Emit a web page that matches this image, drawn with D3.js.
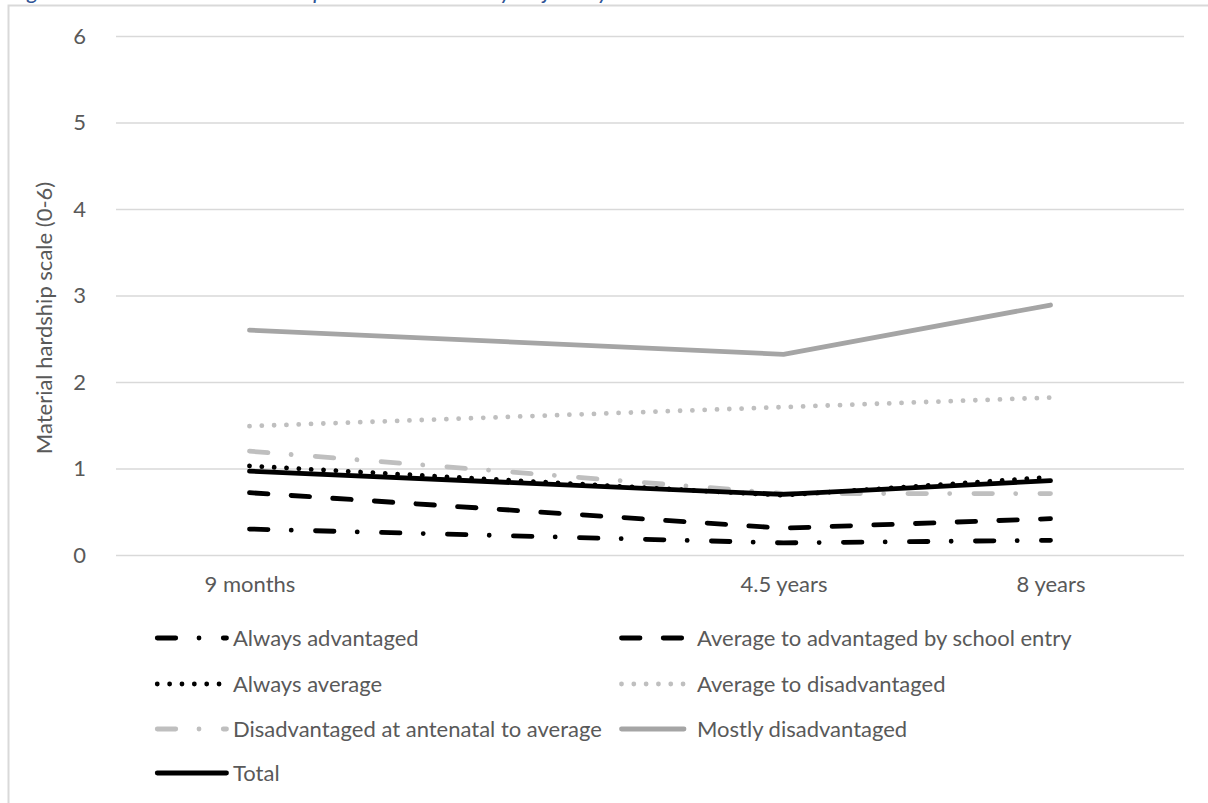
<!DOCTYPE html>
<html>
<head>
<meta charset="utf-8">
<script src="https://cdn.jsdelivr.net/npm/d3@7"></script>
<style>
  html, body { margin: 0; padding: 0; background: #ffffff; }
  svg { display: block; font-family: Lato, "Open Sans", sans-serif; }
</style>
</head>
<body>
<svg id="chart" width="1208" height="803"></svg>
<script>
// Survey waves (the second slot is an unlabelled gap on the category axis)
const categories = ["9 months", "", "4.5 years", "8 years"];
const yTicks = [0, 1, 2, 3, 4, 5, 6];

// Mean material hardship score per wave for each trajectory group
const alwaysAdvantaged      = [0.30, null, 0.14, 0.17];
const avgToAdvantaged       = [0.72, null, 0.31, 0.42];
const alwaysAverage         = [1.03, null, 0.69, 0.90];
const avgToDisadvantaged    = [1.49, null, 1.71, 1.82];
const disadvAntenatalToAvg  = [1.20, null, 0.71, 0.71];
const mostlyDisadvantaged   = [2.60, null, 2.32, 2.89];
const total                 = [0.97, null, 0.70, 0.86];

const seriesNames = [
  "Always advantaged",
  "Average to advantaged by school entry",
  "Always average",
  "Average to disadvantaged",
  "Disadvantaged at antenatal to average",
  "Mostly disadvantaged",
  "Total"
];
const seriesValues = [alwaysAdvantaged, avgToAdvantaged, alwaysAverage,
  avgToDisadvantaged, disadvAntenatalToAvg, mostlyDisadvantaged, total];

// Line styles
const W = 4.8;
const styles = [
  { color: "#000000", dash: "18.5 23.25 0.01 24.25" },   // long dash dot
  { color: "#000000", dash: "18.5 23.2" },               // long dash
  { color: "#000000", dash: "0.01 12.35" },              // round dot
  { color: "#bfbfbf", dash: "0.01 12.3" },               // round dot, light grey
  { color: "#bfbfbf", dash: "18.5 23.25 0.01 24.25" },   // long dash dot, light grey
  { color: "#a5a5a5", dash: null },                      // solid grey
  { color: "#000000", dash: null }                       // solid black
];

const svg = d3.select("#chart");
const textColor = "#595959";
const fontSize = 22;

// Outer chart frame
svg.append("rect")
  .attr("x", 8.5).attr("y", 5.5)
  .attr("width", 1230).attr("height", 830)
  .attr("fill", "none").attr("stroke", "#d9d9d9").attr("stroke-width", 2);

// Caption above the frame
svg.append("text")
  .attr("x", 10).attr("y", -1.5)
  .attr("font-family", "Lato, sans-serif")
  .attr("font-style", "italic")
  .attr("font-size", 23)
  .attr("fill", "#2f5597")
  .text("Figure 3: Mean material hardship scores over time by trajectory");

const plot = { left: 116, right: 1184, top: 36, bottom: 555 };

const x = d3.scalePoint()
  .domain(categories)
  .range([plot.left, plot.right])
  .padding(0.5);

const y = d3.scaleLinear()
  .domain([0, 6])
  .range([plot.bottom, plot.top]);

// Horizontal gridlines
const yAxis = d3.axisLeft(y)
  .tickValues(yTicks)
  .tickSize(-(plot.right - plot.left))
  .tickPadding(30)
  .tickFormat(d3.format("d"));

const gy = svg.append("g")
  .attr("transform", `translate(${plot.left},0)`)
  .call(yAxis);
gy.select(".domain").remove();
gy.selectAll(".tick line").attr("stroke", "#d9d9d9").attr("stroke-width", 1.6);
gy.selectAll(".tick text")
  .attr("fill", textColor)
  .attr("font-size", fontSize)
  .attr("font-family", "Lato, sans-serif");

// Category axis labels
const xAxis = d3.axisBottom(x).tickSize(0).tickPadding(0);
const gx = svg.append("g")
  .attr("transform", `translate(0,${plot.bottom})`)
  .call(xAxis);
gx.select(".domain").remove();
gx.selectAll(".tick text")
  .attr("fill", textColor)
  .attr("font-size", fontSize)
  .attr("font-family", "Lato, sans-serif")
  .attr("dy", null)
  .attr("y", 37);

// Y axis title
svg.append("text")
  .attr("transform", `translate(52,318) rotate(-90)`)
  .attr("text-anchor", "middle")
  .attr("fill", textColor)
  .attr("font-size", fontSize)
  .text("Material hardship scale (0-6)");

// Series lines (gap category is bridged by joining the available waves)
const line = d3.line()
  .x(d => x(d.cat))
  .y(d => y(d.v));

seriesValues.forEach((vals, i) => {
  const pts = categories.map((c, j) => ({ cat: c, v: vals[j] }))
    .filter(d => d.v !== null);
  const st = styles[i];
  svg.append("path")
    .datum(pts)
    .attr("d", line)
    .attr("fill", "none")
    .attr("stroke", st.color)
    .attr("stroke-width", W)
    .attr("stroke-linecap", "round")
    .attr("stroke-linejoin", "round")
    .attr("stroke-dasharray", st.dash);
});

// Legend: two columns
const legendRows = [638, 684, 729, 773];
const legendCols = [
  { x0: 157.25, x1: 226.5, tx: 233 },
  { x0: 621.5, x1: 684, tx: 697 }
];
seriesNames.forEach((name, i) => {
  const col = legendCols[i % 2];
  const ry = legendRows[Math.floor(i / 2)];
  const st = styles[i];
  const g = svg.append("g").attr("class", "legend-item");
  g.append("line")
    .attr("x1", col.x0).attr("x2", col.x1)
    .attr("y1", ry).attr("y2", ry)
    .attr("stroke", st.color)
    .attr("stroke-width", W)
    .attr("stroke-linecap", "round")
    .attr("stroke-dasharray", st.dash);
  g.append("text")
    .attr("x", col.tx).attr("y", ry)
    .attr("dy", "0.35em")
    .attr("fill", textColor)
    .attr("font-size", fontSize)
    .text(name);
});
</script>
</body>
</html>
